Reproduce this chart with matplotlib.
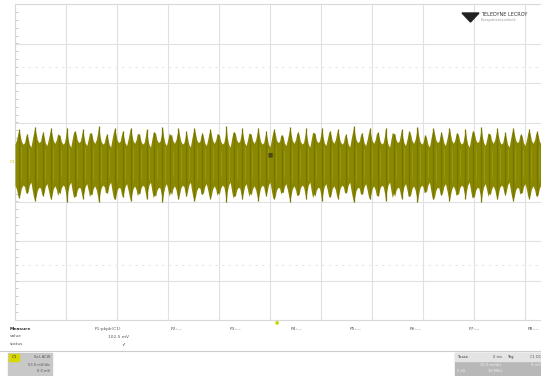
import numpy as np
import matplotlib.pyplot as plt
from matplotlib.patches import Rectangle, Polygon

# scope settings
volts_per_div = 53.0      # mV/div
n_hdiv = 10.31            # visible horizontal divisions (right edge is cut)
n_vdiv = 8

# burst peaks of the C1 trace (mV), one per modulation cycle, left to right
peak_top = [44, 38, 47, 40, 45, 36, 46, 41, 44, 39, 48, 37, 45, 42, 46, 38, 44, 40, 47, 36, 45, 41,
            46, 39, 44, 37, 48, 40, 45, 38, 46, 41, 44, 36, 47, 40, 45, 39, 46, 42, 44, 37, 48, 39,
            45, 40, 46, 38, 44, 41, 47, 36, 45, 40, 46, 39, 44, 42, 47, 38, 45, 40, 46, 37, 44, 41]
peak_bot = [-48, -42, -52, -45, -50, -40, -53, -46, -49, -43, -54, -41, -50, -47, -52, -42, -49, -44,
            -53, -40, -50, -46, -52, -43, -49, -41, -54, -45, -50, -42, -52, -46, -49, -40, -53, -44,
            -50, -43, -52, -47, -49, -41, -54, -43, -50, -45, -52, -42, -49, -46, -53, -40, -50, -44,
            -52, -43, -49, -47, -53, -42, -50, -44, -52, -41, -49, -46]
# dense body of the trace between bursts (mV)
band_top = [24, 20, 26, 22, 25]
band_bot = [-31, -27, -34, -29, -32]

measure_names = ['P1:pkpk(C1)', 'P2:---', 'P3:---', 'P4:---', 'P5:---', 'P6:---', 'P7:---', 'P8:---']
measure_values = ['102.5 mV', '', '', '', '', '', '', '']
measure_status = ['\u2713', '', '', '', '', '', '', '']

trace_color = '#8a8700'
grid_color = '#e0e0e0'

fig = plt.figure(figsize=(5.41, 3.76), dpi=100)
W, H = 541.0, 376.0
ax = fig.add_axes([15 / W, 1 - 320 / H, 526 / W, 316 / H])

# envelope of the burst trace
n = len(peak_top)
period = n_hdiv / n
t_peak = (np.arange(n) + 0.5) * period
t_env, top_env, bot_env = [0.0], [band_top[0]], [band_bot[0]]
for i in range(n):
    bt = band_top[i % len(band_top)]
    bb = band_bot[i % len(band_bot)]
    t_env += [t_peak[i] - 0.3 * period, t_peak[i] - 0.15 * period, t_peak[i],
              t_peak[i] + 0.15 * period, t_peak[i] + 0.3 * period, t_peak[i] + 0.5 * period]
    top_env += [bt + 6, bt + 14, peak_top[i], bt + 12, bt + 4, bt]
    bot_env += [bb - 6, bb - 14, peak_bot[i], bb - 12, bb - 4, bb]
ax.fill_between(t_env, bot_env, top_env, color=trace_color, lw=0, zorder=3)
ax.vlines(t_peak, peak_bot, peak_top, color='#787400', lw=0.9, zorder=4)
ax.vlines(t_peak + 0.3 * period, np.array(peak_bot) * 0.5, np.array(peak_top) * 0.45,
          color='#a8a536', lw=0.4, alpha=0.8, zorder=4)

ax.set_xlim(0, n_hdiv)
ax.set_ylim(-n_vdiv / 2 * volts_per_div, n_vdiv / 2 * volts_per_div)

# graticule
for k in range(1, 11):
    ax.axvline(k, color=grid_color, lw=0.8, zorder=1)
for k in range(-3, 4):
    ax.axhline(k * volts_per_div, color=grid_color, lw=0.8, zorder=1)
for yy in (2.4, -2.6):
    ax.axhline(yy * volts_per_div, color='#e6e6e6', lw=0.8, ls=(0, (2, 4)), zorder=1)
ax.set_xticks([])
ax.set_yticks(np.arange(-4, 4.01, 0.2) * volts_per_div)
ax.tick_params(axis='y', direction='in', length=2, width=0.6, color='#c4c4c4', labelleft=False)
for k in np.arange(0.2, n_hdiv, 0.2):
    ax.plot([k, k], [-2, 2], color='#d4d4d4', lw=0.5, zorder=1)
for s in ax.spines.values():
    s.set_color('#d8d8d8')
    s.set_linewidth(0.8)
ax.spines['right'].set_visible(False)

# channel marker and trigger marker
fig.text(12 / W, 1 - 162 / H, 'C1', fontsize=3, color='#c8c400', ha='center', va='center')
ax.text(5.0, 10, '\u25a0', fontsize=4, color='#4a4815', ha='center', va='center', zorder=5)
fig.text(277 / W, 1 - 322 / H, '\u25cf', fontsize=3.5, color='#c8d400', ha='center', va='center')

# logo
fig.patches.append(Polygon([[462 / W, 1 - 13 / H], [479 / W, 1 - 13 / H], [470.5 / W, 1 - 22 / H]],
                           closed=True, transform=fig.transFigure, color='#222222'))
fig.text(481 / W, 1 - 14 / H, 'TELEDYNE LECROY', fontsize=3.6, color='#333333', va='center')
fig.text(481 / W, 1 - 20 / H, 'Everywhereyoulook', fontsize=2.6, color='#999999', va='center')

# measurement table
fig.text(10 / W, 1 - 329 / H, 'Measure', fontsize=3.2, weight='bold', color='#333333', va='center')
fig.text(10 / W, 1 - 336 / H, 'value', fontsize=3.2, color='#555555', va='center')
fig.text(10 / W, 1 - 344 / H, 'status', fontsize=3.2, color='#555555', va='center')
name_x = [95, 171, 230, 291, 350, 410, 469, 528]
for x, nm, v, st in zip(name_x, measure_names, measure_values, measure_status):
    fig.text(x / W, 1 - 329 / H, nm, fontsize=3.2, color='#555555', va='center')
    if v:
        fig.text((x + 34) / W, 1 - 337 / H, v, fontsize=3.2, color='#555555', va='center', ha='right')
        fig.text((x + 26) / W, 1 - 344 / H, st, fontsize=3.6, color='#333333', va='center')
fig.add_artist(plt.Line2D([0, 1], [1 - 351 / H, 1 - 351 / H], color='#cccccc', lw=0.8))

# channel descriptor box
fig.patches.append(Rectangle((8 / W, 0), 44 / W, 23 / H, transform=fig.transFigure, color='#c8c8c8'))
fig.patches.append(Rectangle((9 / W, 1 - 361 / H), 10 / W, 7 / H, transform=fig.transFigure, color='#d8d800'))
fig.text(14 / W, 1 - 357.5 / H, 'C1', fontsize=3, color='#333333', ha='center', va='center')
fig.text(50 / W, 1 - 357.5 / H, 'Sel, ACW', fontsize=2.6, color='#555555', ha='right', va='center')
fig.text(50 / W, 1 - 364.5 / H, '53.0 mV/div', fontsize=2.6, color='#555555', ha='right', va='center')
fig.text(50 / W, 1 - 371.5 / H, '0.0 mV', fontsize=2.6, color='#555555', ha='right', va='center')

# timebase / trigger boxes
fig.patches.append(Rectangle((455 / W, 0), 49 / W, 23 / H, transform=fig.transFigure, color='#b8b8b8'))
fig.patches.append(Rectangle((505 / W, 0), 36 / W, 23 / H, transform=fig.transFigure, color='#b8b8b8'))
fig.patches.append(Rectangle((455 / W, 1 - 361 / H), 49 / W, 8 / H, transform=fig.transFigure, color='#e4e4e4'))
fig.patches.append(Rectangle((505 / W, 1 - 361 / H), 36 / W, 8 / H, transform=fig.transFigure, color='#e4e4e4'))
fig.text(457 / W, 1 - 357 / H, 'Tbase', fontsize=2.6, color='#333333', va='center')
fig.text(502 / W, 1 - 357 / H, '0 ms', fontsize=2.6, color='#555555', va='center', ha='right')
fig.text(502 / W, 1 - 364.5 / H, '10.0 ms/div', fontsize=2.6, color='#f4f4f4', va='center', ha='right')
fig.text(457 / W, 1 - 371.5 / H, '5 kS', fontsize=2.6, color='#f4f4f4', va='center')
fig.text(502 / W, 1 - 371.5 / H, '10 MS/s', fontsize=2.6, color='#f4f4f4', va='center', ha='right')
fig.text(507 / W, 1 - 357 / H, 'Trig', fontsize=2.6, color='#333333', va='center')
fig.text(541 / W, 1 - 357 / H, 'C1 DC', fontsize=2.6, color='#555555', va='center', ha='right')
fig.text(541 / W, 1 - 364.5 / H, '0 mV', fontsize=2.6, color='#f4f4f4', va='center', ha='right')

fig.savefig('out.png', dpi=100)
